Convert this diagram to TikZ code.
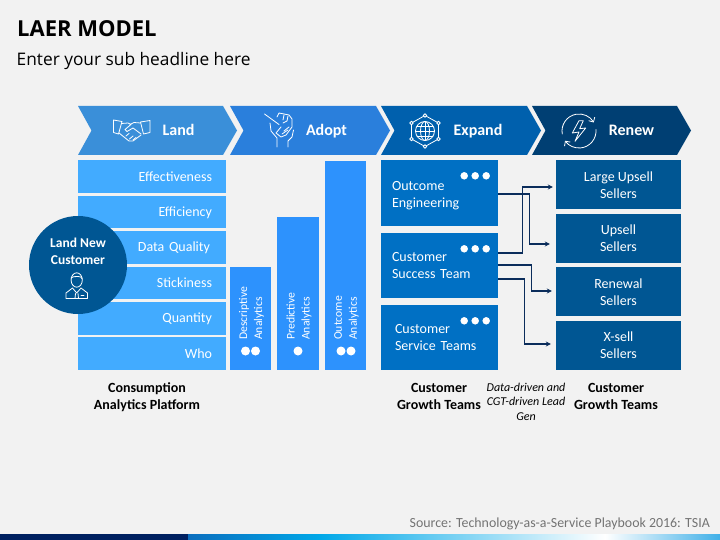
\documentclass[tikz,border=0pt]{standalone}
\usepackage{fontspec}
\setmainfont{Carlito}
\newfontfamily\headfont{Open Sans}
\usetikzlibrary{positioning, arrows.meta}
\definecolor{pagebg}{HTML}{F2F2F2}
\definecolor{barblue}{HTML}{42ABFF}
\definecolor{colblue}{HTML}{2D92FD}
\definecolor{teamblue}{HTML}{0070C4}
\definecolor{sellblue}{HTML}{005693}
\definecolor{navy}{HTML}{0B2D5B}
\definecolor{footnavy}{HTML}{002060}
\definecolor{footblue}{HTML}{0B6EBE}
\definecolor{footcyan}{HTML}{00A8E8}
\definecolor{footend}{HTML}{40B0E8}
\definecolor{expandblue}{HTML}{0060AD}

\begin{document}
\begin{tikzpicture}[
    x=1pt, y=-1pt,
    metric/.style={rectangle, fill=barblue, text=white, minimum width=148pt, text width=120pt, inner xsep=14pt, inner ysep=0pt, align=right, font=\fontsize{14}{17}\selectfont},
    column/.style={rectangle, fill=colblue, inner sep=0pt, anchor=south},
    vlabel/.style={rotate=90, anchor=west, inner sep=0pt, text=white, align=left, font=\fontsize{11.7}{15}\selectfont},
    team/.style={rectangle, fill=teamblue, text=white, minimum width=117pt, text width=95pt, inner xsep=11pt, inner ysep=0pt, align=left, font=\fontsize{14}{17}\selectfont},
    seller/.style={rectangle, fill=sellblue, text=white, minimum width=125pt, minimum height=49pt, inner sep=0pt, align=center, font=\fontsize{14}{17}\selectfont},
    stage/.style={anchor=base, text=white, inner sep=0pt, font=\fontsize{16}{18}\selectfont\bfseries},
    caption/.style={inner sep=0pt, align=center, text=black, font=\fontsize{14}{17}\selectfont\bfseries},
    whitedot/.style={circle, fill=white, inner sep=0pt, minimum size=7.5pt},
    bigdot/.style={circle, fill=white, inner sep=0pt, minimum size=9pt},
    link/.style={draw=navy, line width=1.4pt, -{Stealth[length=5pt, width=5pt]}},
    icon/.style={draw=white, line width=0.8pt, line join=round, line cap=round}
]
    \useasboundingbox (0,0) rectangle (720,540);
    \fill[pagebg] (0,0) rectangle (720,540);

    % Headline
    \node[anchor=base west, inner sep=0pt, font=\fontsize{22}{24}\selectfont\headfont\bfseries] (headline) at (17,37) {LAER MODEL};
    \node[anchor=base west, inner sep=0pt, font=\fontsize{17.3}{20}\selectfont\headfont] (subline) at (16.5,66) {Enter your sub headline here};

    % Stage arrows
    \foreach \xl/\xr/\col in {78/223/3A8FD9, 230/376/2A7FDC, 381/527/0060AD, 532/677/003F73} {
        \definecolor{stagecol}{HTML}{\col}
        \fill[stagecol] (\xl,106) -- (\xr,106) -- (\xr+14,130.5) -- (\xr,155) -- (\xl,155) -- (\xl+13.5,130.5) -- cycle;
    }
    \node[stage] (land) at (178.5,136) {Land};
    \node[stage] (adopt) at (326.5,136) {Adopt};
    \node[stage] (expand) at (478,136) {Expand};
    \node[stage] (renew) at (631.5,136) {Renew};

    % Handshake icon
    \draw[icon] (113.5,120) -- (122,121.5) -- (118.5,134) -- (113.5,132.5) -- cycle;
    \draw[icon] (150,120.5) -- (140.5,122) -- (143.5,134) -- (150,132.5) -- cycle;
    \draw[icon] (121.5,123.5) -- (128,123) -- (131,124.5) -- (125,129.5) -- (127,131.5) -- (133,128) -- (141,134);
    \draw[icon] (140.5,123) -- (134,122.5) -- (130,124.5);
    \draw[icon] (119,133) -- (129,141) -- (133,141) -- (141,135);
    \draw[icon] (126,136) -- (129,133.5) (129.5,139) -- (133,136) (133,140) -- (136,137.5);

    % Fist icon
    \draw[icon] (264.5,114) -- (279,124.5);
    \draw[icon] (277,117) -- (279,113) -- (289,115) -- (292,119) -- (292,127) -- (286,135) -- (281,137) -- (276,133) -- (281,127);
    \draw[icon] (284,115) -- (283,120) (288,116) -- (287,121) -- (283,123);
    \draw[icon] (284,131) -- (289,127) (282,134) -- (288,130);
    \draw[icon] (270,123) -- (271,131) -- (277,138) -- (277,147);
    \draw[icon] (293.5,130) -- (292,137) -- (288,141) -- (288,147);

    % Globe icon
    \draw[icon] (425,131) circle[radius=9.5];
    \draw[icon] (425,131) ellipse[x radius=4.5, y radius=9.5];
    \draw[icon] (415.5,131) -- (434.5,131) (425,121.5) -- (425,140.5);
    \draw[icon] (417,126) -- (433,126) (417,136) -- (433,136);
    \draw[icon] (425,115.5) -- (438.5,123) -- (438.5,139) -- (425,146.5) -- (411.5,139) -- (411.5,123) -- cycle;
    \foreach \px/\py in {425/115.5, 438.5/123, 438.5/139, 425/146.5, 411.5/139, 411.5/123} {
        \filldraw[icon, fill=expandblue] (\px,\py) circle[radius=1.8];
    }

    % Bolt icon
    \begin{scope}[shift={(579,131)}]
        \draw[icon, -{Straight Barb[length=3.5pt, width=7pt]}] (190:17pt) arc[start angle=190, end angle=30, radius=17pt];
        \draw[icon, -{Straight Barb[length=3.5pt, width=7pt]}] (5:17pt) arc[start angle=5, end angle=-145, radius=17pt];
    \end{scope}
    \draw[icon] (579,120.7) -- (572.3,133) -- (579,132) -- (575,141.3) -- (585.7,128) -- (579.7,128.7) -- (583.3,120.7) -- cycle;

    % Metric bars
    \node[metric, minimum height=33pt] (effect) at (152,176.5) {Effectiveness};
    \node[metric, minimum height=32pt] (effic) at (152,212) {\rule{0pt}{12pt}Efficiency};
    \node[metric, minimum height=33pt, inner xsep=16pt, text width=116pt] (quality) at (152,247.5) {Data Quality};
    \node[metric, minimum height=32pt] (sticky) at (152,283) {Stickiness};
    \node[metric, minimum height=33pt] (quantity) at (152,318.5) {Quantity};
    \node[metric, minimum height=33pt] (who) at (152,353.5) {Who};

    % Customer circle
    \node[circle, fill=sellblue, minimum size=98pt, inner sep=0pt] (landnew) at (78,265) {};
    \node[inner sep=0pt, text=white, align=center, font=\fontsize{13.5}{17}\selectfont\bfseries] (landtext) at (78,251) {Land New\\Customer};
    \draw[icon] (76.7,280) ellipse[x radius=5.6, y radius=7.2];
    \draw[icon] (71,278) .. controls (72,276) and (75,277) .. (78,276.5) .. controls (80,276.5) and (82,277) .. (82.3,279);
    \draw[icon] (66,298.5) -- (66,293) -- (72.5,288) -- (76.7,293) -- (81,288) -- (87.5,293) -- (87.5,298.5) -- cycle;
    \draw[icon] (75.5,293.5) -- (75,298.5) (78,293.5) -- (78.5,298.5) (81,295.5) -- (84,295.5);

    % Analytics columns
    \node[column, minimum width=41pt, minimum height=103pt] (descr) at (250.5,370) {};
    \node[column, minimum width=42pt, minimum height=153pt] (predict) at (298,370) {};
    \node[column, minimum width=41pt, minimum height=209pt] (outc) at (345.5,370) {};
    \node[vlabel] (descrtext) at ([xshift=1pt, yshift=30pt]descr.south) {Descriptive\\Analytics};
    \node[vlabel] (predicttext) at ([xshift=1pt, yshift=30pt]predict.south) {Predictive\\Analytics};
    \node[vlabel] (outctext) at ([xshift=1pt, yshift=30pt]outc.south) {Outcome\\Analytics};
    \node[bigdot] (descra) at (245.5,351) {};
    \node[bigdot] (descrb) at (255.5,351) {};
    \node[bigdot] (predicta) at (298,351) {};
    \node[bigdot] (outca) at (341,351) {};
    \node[bigdot] (outcb) at (351,351) {};

    % Customer growth teams
    \node[team, minimum height=66pt] (engineering) at (439.5,193) {\rule{0pt}{14pt}Outcome\\Engineering};
    \node[team, minimum height=65pt] (success) at (439.5,265.5) {Customer\\Success Team};
    \node[team, minimum height=65pt, text width=89pt, inner xsep=14pt] (service) at (439.5,337.5) {Customer\\Service Teams};
    \foreach \team in {engineering, success, service} {
        \foreach \dx in {12,23,34} {
            \node[whitedot] at ([xshift=-\dx pt, yshift=-16pt]\team.north east) {};
        }
    }

    % Sellers
    \node[seller] (large) at (618.5,184.5) {\rule{0pt}{12pt}Large Upsell\\Sellers};
    \node[seller] (upsell) at (618.5,238.5) {Upsell\\Sellers};
    \node[seller] (renewal) at (618.5,291.5) {\rule{0pt}{12pt}Renewal\\Sellers};
    \node[seller] (xsell) at (618.5,345.5) {X-sell\\Sellers};

    % Lead links
    \draw[link] ([yshift=-1pt]engineering.east) -- ++(31,0) |- ([xshift=-6pt, yshift=-5.5pt]upsell.west);
    \draw[link] ([yshift=12.5pt]success.east) -- ++(24,0) |- ([xshift=-3pt, yshift=-2.5pt]large.west);
    \draw[link] ([yshift=0.5pt]success.east) -- ++(33,0) |- ([xshift=-4pt, yshift=0.5pt]renewal.west);
    \draw[link] ([yshift=-13.5pt]success.east) -- ++(26,0) |- ([xshift=-5pt, yshift=1.5pt]xsell.west);

    % Captions
    \node[caption] (platform) at (147,397) {Consumption\\Analytics Platform};
    \node[caption] (growthl) at (439,396.5) {Customer\\Growth Teams};
    \node[caption] (growthr) at (616,396.5) {Customer\\Growth Teams};
    \node[inner sep=0pt, align=center, text=black, font=\fontsize{12}{14.5}\selectfont\itshape] (leadgen) at (526,401.5) {Data-driven and\\CGT-driven Lead\\Gen};

    % Source and footer
    \node[anchor=east, inner sep=0pt, text=black!55, font=\fontsize{13.9}{16}\selectfont] (source) at (710,524) {Source: Technology-as-a-Service Playbook 2016: TSIA};
    \fill[footnavy] (0,534) rectangle (188,540);
    \shade[left color=footblue, right color=footcyan] (188,534) rectangle (320,540);
    \shade[left color=footcyan, right color=white] (320,534) rectangle (605,540);
    \shade[left color=white, right color=footend] (605,534) rectangle (720,540);
\end{tikzpicture}
\end{document}
